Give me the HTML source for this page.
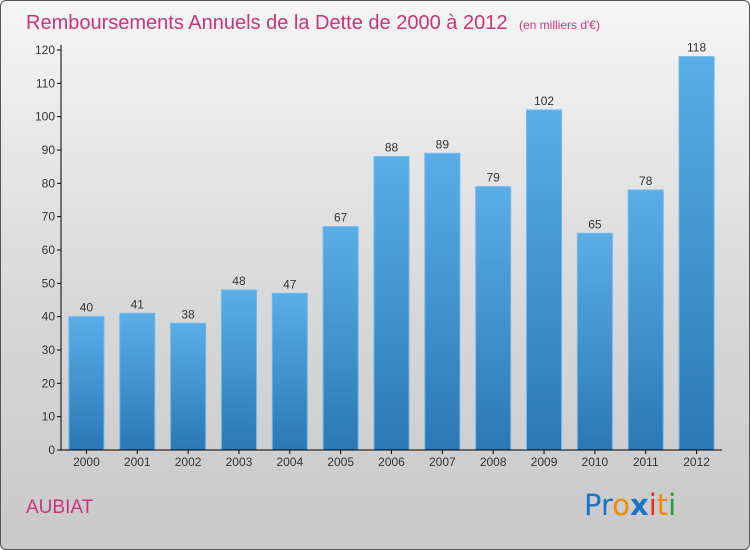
<!DOCTYPE html>
<html><head><meta charset="utf-8"><style>
html,body{margin:0;padding:0;width:750px;height:550px;overflow:hidden}
body{font-family:"Liberation Sans",sans-serif}
#frame{position:absolute;left:0;top:0;width:748px;height:548px;border:1px solid #555;border-radius:6px;background:linear-gradient(#f5f5f5,#d8d8d8 55%,#c9c9c9)}
</style></head><body>
<div id="frame"></div>
<svg width="750" height="550" style="position:absolute;left:0;top:0">
<defs><linearGradient id="bg" x1="0" y1="0" x2="0" y2="1"><stop offset="0" stop-color="#5aaee8"/><stop offset="1" stop-color="#2a78b5"/></linearGradient></defs>
<text x="26" y="29" font-size="20" fill="#c8347a">Remboursements Annuels de la Dette de 2000 à 2012 <tspan font-size="12" dx="6">(en milliers d'€)</tspan></text>
<text x="26" y="513" font-size="19" fill="#c8347a">AUBIAT</text>
<g font-size="29" font-family="'DejaVu Sans',sans-serif">
<text x="584" y="515"><tspan fill="#1a73c8">Pr</tspan><tspan fill="#f08a00">o</tspan><tspan fill="#1a73c8" font-weight="bold">x</tspan><tspan fill="#e03020">i</tspan><tspan fill="#f08a00">t</tspan><tspan fill="#2a9a3a">i</tspan></text></g>
<g id="plot"></g>
</svg>
<script>
const years=["2000","2001","2002","2003","2004","2005","2006","2007","2008","2009","2010","2011","2012"];
const values=[40,41,38,48,47,67,88,89,79,102,65,78,118];
const ticks=[0,10,20,30,40,50,60,70,80,90,100,110,120];
const X0=61,X1=722,Y0=450,Y1=50,MAX=120;
const slot=(X1-X0)/years.length;
const y=v=>Y0-(v/MAX)*(Y0-Y1);
const xc=i=>X0+slot*(i+0.5);
const g=document.getElementById('plot');
const NS='http://www.w3.org/2000/svg';
function mk(t,a){const e=document.createElementNS(NS,t);for(const k in a)e.setAttribute(k,a[k]);g.appendChild(e);return e;}
ticks.forEach(t=>{
 const l=mk('line',{x1:X0-4,x2:X0,y1:y(t),y2:y(t),stroke:'#000'});
 
 
 const tx=mk('text',{x:X0-6,y:y(t)+4,'text-anchor':'end','font-size':12,fill:'#333'});
 tx.textContent=t;
 
 
});
values.forEach((v,i)=>{
 const r=mk('rect',{x:xc(i)-17.5,y:y(v),width:35,height:Y0-y(v),fill:'url(#bg)',stroke:'#6bb8ee','stroke-width':1});
 
 
 const lb=mk('text',{x:xc(i),y:y(v)-5,'text-anchor':'middle','font-size':12,fill:'#333'});
 lb.textContent=v;
 
 
 const tk=mk('line',{x1:xc(i),x2:xc(i),y1:Y0,y2:Y0+4,stroke:'#000'});
 
 
 const xl=mk('text',{x:xc(i),y:Y0+16,'text-anchor':'middle','font-size':12,fill:'#333'});
 xl.textContent=years[i];
 
 
});
const ya=mk('line',{x1:X0,x2:X0,y1:Y1-5,y2:Y0,stroke:'#000'});


const xa=mk('line',{x1:X0,x2:X1,y1:Y0,y2:Y0,stroke:'#000'});


</script>
</body></html>
